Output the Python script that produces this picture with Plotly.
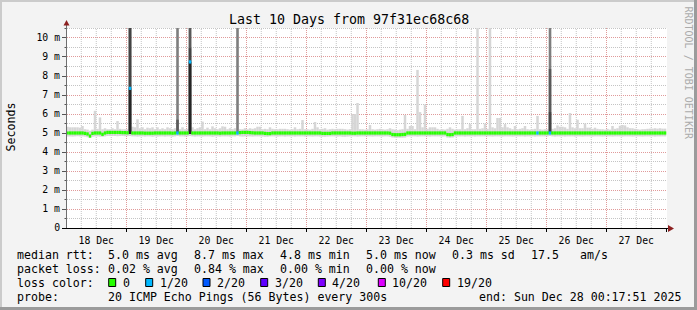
import plotly.graph_objects as go
import pandas as pd

# ---------------- data ----------------
TITLE = "Last 10 Days from 97f31ec68c68"
BIN_START = "2025-12-18 00:00:00"          # first hourly bin
RANGE_START = "2025-12-18 00:17:51"
RANGE_END = "2025-12-28 00:17:51"

# upper edge of the smoke (highest ping per hour, ms)
smoke_hi = [
    5.33, 5.30, 5.30, 5.30, 5.30, 5.28, 5.37, 5.20, 5.18, 5.12, 5.18, 6.17, 5.22, 5.82, 5.20, 5.25, 5.20, 5.20, 5.25, 5.20, 5.63, 5.22, 5.20, 5.20,
    5.20, 10.6, 5.33, 5.30, 5.72, 5.25, 5.30, 5.20, 5.28, 5.25, 5.30, 5.20, 5.30, 5.20, 5.25, 5.20, 5.30, 5.25, 5.20, 5.25, 10.6, 5.20, 5.30, 5.20,
    5.22, 10.6, 5.30, 5.20, 5.25, 5.30, 5.60, 5.20, 5.28, 5.20, 5.35, 5.25, 5.20, 5.25, 5.35, 5.33, 5.20, 5.25, 5.20, 5.25, 10.6, 5.20, 5.20, 5.25,
    5.20, 5.25, 5.22, 5.25, 5.33, 5.33, 5.20, 5.22, 5.20, 5.30, 5.22, 5.20, 5.20, 5.22, 5.22, 5.22, 5.20, 5.18, 5.20, 5.30, 5.20, 5.22, 5.68, 5.20,
    5.20, 5.18, 5.22, 5.58, 5.30, 5.20, 5.22, 5.25, 5.18, 5.20, 5.22, 5.20, 5.22, 5.22, 5.22, 5.20, 5.18, 5.20, 6.00, 6.00, 6.58, 5.20, 5.20, 5.18,
    5.20, 5.42, 5.20, 5.18, 5.20, 5.22, 5.20, 5.18, 5.20, 5.25, 5.20, 5.18, 5.15, 5.18, 5.20, 5.95, 5.22, 5.37, 5.37, 5.20, 8.32, 6.10, 5.30, 6.50,
    5.22, 5.30, 5.30, 5.30, 5.22, 5.18, 5.20, 5.18, 5.22, 5.30, 5.22, 5.18, 5.20, 5.20, 5.90, 5.20, 5.25, 5.47, 5.20, 5.20, 10.6, 5.22, 5.25, 5.50,
    5.22, 10.6, 5.30, 5.25, 5.79, 5.79, 5.30, 5.47, 5.30, 5.25, 5.20, 5.37, 5.20, 5.22, 5.25, 5.37, 5.20, 5.18, 5.20, 5.22, 5.90, 5.20, 5.18, 5.20,
    5.20, 10.6, 5.22, 5.25, 5.40, 5.33, 5.33, 5.30, 5.22, 6.05, 5.30, 5.25, 5.70, 5.25, 5.25, 5.50, 5.28, 5.28, 5.22, 5.28, 5.22, 5.20, 5.20, 5.18,
    5.22, 5.18, 5.37, 5.22, 5.25, 5.38, 5.42, 5.40, 5.30, 5.25, 5.25, 5.22, 5.20, 5.18, 5.20, 5.20, 5.22, 5.23, 5.23, 5.25, 5.23, 5.25, 5.23, 5.23,
]

# lower edge of the smoke (lowest ping per hour, ms)
smoke_lo = [
    4.82, 4.82, 4.81, 4.82, 4.83, 4.82, 4.82, 4.81, 4.78, 4.74, 4.80, 4.82, 4.82, 4.81, 4.80, 4.82, 4.84, 4.84, 4.84, 4.84, 4.83, 4.84, 4.84, 4.83,
    4.83, 4.84, 4.82, 4.82, 4.81, 4.82, 4.82, 4.81, 4.82, 4.82, 4.80, 4.82, 4.81, 4.82, 4.82, 4.81, 4.82, 4.82, 4.80, 4.82, 4.84, 4.82, 4.82, 4.81,
    4.82, 4.84, 4.82, 4.81, 4.82, 4.82, 4.81, 4.82, 4.82, 4.82, 4.80, 4.82, 4.82, 4.81, 4.82, 4.82, 4.82, 4.81, 4.82, 4.82, 4.84, 4.82, 4.81, 4.82,
    4.82, 4.82, 4.81, 4.82, 4.82, 4.82, 4.81, 4.80, 4.80, 4.82, 4.82, 4.82, 4.81, 4.82, 4.82, 4.81, 4.82, 4.82, 4.82, 4.81, 4.82, 4.82, 4.82, 4.81,
    4.82, 4.82, 4.81, 4.82, 4.82, 4.81, 4.80, 4.80, 4.81, 4.82, 4.82, 4.82, 4.81, 4.82, 4.80, 4.80, 4.81, 4.82, 4.82, 4.82, 4.81, 4.82, 4.82, 4.82,
    4.82, 4.82, 4.81, 4.82, 4.82, 4.82, 4.81, 4.82, 4.82, 4.80, 4.76, 4.75, 4.75, 4.75, 4.75, 4.76, 4.81, 4.82, 4.82, 4.82, 4.81, 4.82, 4.82, 4.82,
    4.82, 4.81, 4.82, 4.82, 4.82, 4.82, 4.81, 4.82, 4.76, 4.75, 4.76, 4.81, 4.82, 4.82, 4.82, 4.81, 4.82, 4.82, 4.82, 4.81, 4.82, 4.82, 4.82, 4.82,
    4.82, 4.82, 4.81, 4.82, 4.82, 4.82, 4.81, 4.82, 4.82, 4.82, 4.81, 4.82, 4.82, 4.82, 4.82, 4.81, 4.82, 4.82, 4.82, 4.81, 4.82, 4.82, 4.82, 4.82,
    4.82, 4.84, 4.82, 4.81, 4.82, 4.82, 4.82, 4.81, 4.82, 4.82, 4.82, 4.81, 4.82, 4.82, 4.81, 4.82, 4.82, 4.82, 4.81, 4.82, 4.82, 4.82, 4.81, 4.82,
    4.82, 4.82, 4.81, 4.82, 4.82, 4.82, 4.81, 4.82, 4.82, 4.82, 4.81, 4.82, 4.82, 4.82, 4.81, 4.82, 4.82, 4.82, 4.82, 4.81, 4.82, 4.82, 4.82, 4.82,
]

# median rtt per hour (ms)
median_ms = [
    5.00, 5.00, 5.00, 5.00, 5.00, 5.00, 5.00, 4.98, 4.95, 4.84, 4.98, 5.00, 5.00, 5.00, 4.93, 5.00, 5.03, 5.03, 5.03, 5.03, 5.03, 5.03, 5.02, 5.02,
    5.01, 7.35, 5.00, 5.00, 5.00, 5.00, 5.00, 4.99, 4.99, 4.99, 4.99, 5.00, 5.00, 5.00, 5.00, 5.00, 5.00, 5.00, 4.99, 5.00, 5.00, 5.00, 5.00, 5.00,
    5.00, 8.74, 5.00, 5.00, 5.00, 5.00, 5.00, 5.00, 5.00, 5.00, 5.00, 5.00, 5.00, 4.99, 5.00, 5.00, 5.00, 5.00, 5.00, 5.00, 5.00, 5.02, 5.03, 5.03,
    5.03, 5.02, 5.01, 5.00, 5.00, 5.00, 5.00, 4.98, 4.97, 4.97, 5.00, 5.00, 5.00, 5.00, 5.00, 5.00, 5.00, 5.00, 5.00, 5.00, 5.00, 5.00, 5.00, 5.00,
    5.00, 5.00, 5.00, 5.00, 5.00, 5.00, 4.98, 4.98, 4.98, 4.98, 5.00, 5.00, 5.00, 5.00, 5.00, 5.00, 5.00, 5.00, 4.99, 4.99, 5.00, 5.00, 5.00, 5.00,
    5.00, 5.00, 5.00, 5.00, 5.00, 5.00, 5.00, 5.00, 5.00, 4.99, 4.92, 4.91, 4.91, 4.91, 4.92, 4.93, 5.00, 5.00, 5.00, 5.00, 5.00, 5.00, 5.00, 5.00,
    5.00, 5.00, 5.00, 5.00, 5.00, 5.00, 5.00, 5.00, 4.92, 4.91, 4.92, 5.00, 5.00, 5.00, 5.00, 5.00, 5.00, 5.00, 5.00, 5.00, 5.00, 5.00, 5.00, 5.00,
    5.00, 5.00, 5.00, 5.00, 5.00, 5.00, 5.00, 5.00, 5.00, 5.00, 5.00, 5.00, 5.00, 5.00, 5.00, 5.00, 5.00, 5.00, 5.00, 5.00, 5.00, 5.00, 5.00, 5.00,
    5.00, 5.00, 5.00, 5.00, 5.00, 5.00, 5.00, 5.00, 5.00, 5.00, 5.00, 5.00, 5.00, 5.00, 5.00, 5.00, 5.00, 5.00, 5.00, 5.00, 5.00, 5.00, 5.00, 5.00,
    5.00, 5.00, 5.00, 5.00, 5.00, 5.00, 5.00, 5.00, 5.00, 5.00, 5.00, 5.00, 5.00, 5.00, 5.00, 5.00, 5.00, 5.00, 5.00, 5.00, 5.00, 5.00, 5.00, 5.00,
]

# lost pings (out of 20) per hour
loss_pings = [
    0, 0, 0, 0, 0, 0, 0, 0, 0, 0, 0, 0, 0, 0, 0, 0, 0, 0, 0, 0, 0, 0, 0, 0,
    0, 1, 0, 0, 0, 0, 0, 0, 0, 0, 0, 0, 0, 0, 0, 0, 0, 0, 0, 0, 1, 0, 0, 0,
    0, 1, 0, 0, 0, 0, 0, 0, 0, 0, 0, 0, 0, 0, 0, 0, 0, 0, 0, 0, 1, 0, 0, 0,
    0, 0, 0, 0, 0, 0, 0, 0, 0, 0, 0, 0, 0, 0, 0, 0, 0, 0, 0, 0, 0, 0, 0, 0,
    0, 0, 0, 0, 0, 0, 0, 0, 0, 0, 0, 0, 0, 0, 0, 0, 0, 0, 0, 0, 0, 0, 0, 0,
    0, 0, 0, 0, 0, 0, 0, 0, 0, 0, 0, 0, 0, 0, 0, 0, 0, 0, 0, 0, 0, 0, 0, 0,
    0, 0, 0, 0, 0, 0, 0, 0, 0, 0, 0, 0, 0, 0, 0, 0, 0, 0, 0, 0, 0, 0, 0, 0,
    0, 0, 0, 0, 0, 0, 0, 0, 0, 0, 0, 0, 0, 0, 0, 0, 0, 0, 0, 0, 1, 0, 0, 0,
    0, 1, 0, 0, 0, 0, 0, 0, 0, 0, 0, 0, 0, 0, 0, 0, 0, 0, 0, 0, 0, 0, 0, 0,
    0, 0, 0, 0, 0, 0, 0, 0, 0, 0, 0, 0, 0, 0, 0, 0, 0, 0, 0, 0, 0, 0, 0, 0,
]

# hours with heavy smoke (many slow pings): top of each inner smoke band (ms)
burst_hours = [25, 44, 49, 68, 193]
burst_base = [4.95, 4.98, 4.95, 4.98, 4.97]
burst_band2 = [10.6, 10.6, 10.6, 10.6, 10.6]
burst_band3 = [10.6, 5.70, 10.6, 4.98, 8.37]
burst_band4 = [10.6, 4.98, 9.46, 4.98, 6.10]
burst_band5 = [7.35, 4.98, 8.74, 4.98, 4.97]

y_tick_vals = [0, 1, 2, 3, 4, 5, 6, 7, 8, 9, 10]
y_tick_text = ["0", "1 m", "2 m", "3 m", "4 m", "5 m", "6 m", "7 m", "8 m", "9 m", "10 m"]
y_minor_vals = [0.5, 1.5, 2.5, 3.5, 4.5, 5.5, 6.5, 7.5, 8.5, 9.5, 10.5]
x_minor_hours = [6, 12, 18]          # minor grid within each day

loss_levels = [0, 1, 2, 3, 4, 10, 19]
loss_labels = ["0", "1/20", "2/20", "3/20", "4/20", "10/20", "19/20"]
loss_colors = ["#26ff00", "#00b8ff", "#0059ff", "#5e00ff", "#7e00ff", "#dd00ff", "#ff0000"]

rtt_values = ["5.0", "8.7", "4.8", "5.0", "0.3"]
rtt_kinds = ["avg", "max", "min", "now", "sd"]
rtt_am = "17.5"
loss_values = ["0.02", "0.84", "0.00", "0.00"]
loss_kinds = ["avg", "max", "min", "now"]
probe_text = "20 ICMP Echo Pings (56 Bytes) every 300s"
end_text = "end: Sun Dec 28 00:17:51 2025"

# ---------------- styling / geometry ----------------
W, H = 697, 310
L, R, T, B = 67, 667, 28, 228
FONT = "DejaVu Sans Mono"
HOUR_MS = 3600000
MAJOR_GRID = "#e09a9a"
MINOR_GRID = "#c4c4c4"
DASH = "1px,1px"
N_DAYS = 10


def px(x):
    return (x - L) / (R - L)


def py(y):
    return (B - y) / (B - T)


t0 = pd.Timestamp(BIN_START)
times = [t0 + pd.Timedelta(minutes=60 * h + 30) for h in range(len(median_ms))]
burst_times = [t0 + pd.Timedelta(minutes=60 * h + 30) for h in burst_hours]
x_minor_vals = [t0 + pd.Timedelta(days=d, hours=hh) for d in range(N_DAYS + 1) for hh in x_minor_hours]
x_lo, x_hi = pd.Timestamp(RANGE_START), pd.Timestamp(RANGE_END)
x_minor_vals = [v for v in x_minor_vals if x_lo < v < x_hi]


def loss_color(n):
    c = loss_colors[0]
    for lv, col in zip(loss_levels, loss_colors):
        if n >= lv:
            c = col
    return c


fig = go.Figure()

# light outer smoke
fig.add_trace(go.Bar(
    x=times, base=smoke_lo, y=[h - l for h, l in zip(smoke_hi, smoke_lo)],
    width=HOUR_MS, marker=dict(color="#d6d6d6", line=dict(width=0)),
    hoverinfo="skip", showlegend=False))

# heavy smoke bands
band_colors = ["#7e7e7e", "#5a5a5a", "#444444", "#262626"]
for tops, col in zip([burst_band2, burst_band3, burst_band4, burst_band5], band_colors):
    fig.add_trace(go.Bar(
        x=burst_times, base=burst_base, y=[t - b for t, b in zip(tops, burst_base)],
        width=HOUR_MS, marker=dict(color=col, line=dict(width=0)),
        hoverinfo="skip", showlegend=False))

# median line coloured by loss
HALF = 0.085
fig.add_trace(go.Bar(
    x=times, base=[m - HALF for m in median_ms], y=[2 * HALF] * len(median_ms),
    width=HOUR_MS, marker=dict(color=[loss_color(n) for n in loss_pings], line=dict(width=0)),
    hoverinfo="skip", showlegend=False))

shapes = []
# minor grid (drawn beneath the data)
for v in x_minor_vals:
    shapes.append(dict(type="line", xref="x", yref="paper", x0=v, x1=v, y0=0, y1=1,
                       line=dict(color=MINOR_GRID, width=1, dash=DASH), layer="below"))
for v in y_minor_vals:
    shapes.append(dict(type="line", xref="paper", yref="y", x0=0, x1=1, y0=v, y1=v,
                       line=dict(color=MINOR_GRID, width=1, dash=DASH), layer="below"))
    shapes.append(dict(type="line", xref="paper", yref="y", x0=px(64.5), x1=px(67), y0=v, y1=v,
                       line=dict(color="#555", width=1), layer="above"))
# frame
shapes += [
    dict(type="rect", xref="paper", yref="paper", x0=px(0), x1=px(W), y0=py(0), y1=py(2),
         fillcolor="#cbcbcb", line=dict(width=0), layer="above"),
    dict(type="rect", xref="paper", yref="paper", x0=px(0), x1=px(2), y0=py(0), y1=py(H),
         fillcolor="#cbcbcb", line=dict(width=0), layer="above"),
    dict(type="rect", xref="paper", yref="paper", x0=px(0), x1=px(W), y0=py(H - 3), y1=py(H),
         fillcolor="#9b9b9b", line=dict(width=0), layer="above"),
    dict(type="rect", xref="paper", yref="paper", x0=px(W - 3), x1=px(W), y0=py(0), y1=py(H),
         fillcolor="#9b9b9b", line=dict(width=0), layer="above"),
]
# axis lines and arrows
shapes += [
    dict(type="line", xref="paper", yref="paper", x0=px(66.5), x1=px(66.5), y0=py(B), y1=py(24),
         line=dict(color="#6e6e6e", width=1), layer="above"),
    dict(type="line", xref="paper", yref="paper", x0=px(62), x1=px(669), y0=py(B + 0.5), y1=py(B + 0.5),
         line=dict(color="#000000", width=1), layer="above"),
    dict(type="path", xref="paper", yref="paper",
         path=f"M {px(63.5)} {py(25.5)} L {px(69.5)} {py(25.5)} L {px(66.5)} {py(20)} Z",
         fillcolor="#8c2020", line=dict(width=0), layer="above"),
    dict(type="path", xref="paper", yref="paper",
         path=f"M {px(668)} {py(225)} L {px(668)} {py(232)} L {px(674)} {py(228.5)} Z",
         fillcolor="#8c2020", line=dict(width=0), layer="above"),
]

ann = []
ann.append(dict(text=TITLE, x=px(348.5), y=py(19), xanchor="center", yanchor="middle",
                font=dict(family=FONT, size=13.3, color="#000")))
ann.append(dict(text="Seconds", x=px(10.5), y=py(127), xanchor="center", yanchor="middle",
                textangle=-90, font=dict(family=FONT, size=11.6, color="#000")))
ann.append(dict(text="RRDTOOL / TOBI OETIKER", x=px(688.5), y=py(73), xanchor="center",
                yanchor="middle", textangle=90, font=dict(family=FONT, size=10, color="#ababab")))

LEG = dict(family=FONT, size=11.6, color="#000")
rows_y = [254.5, 268.5, 282.5, 296.5]
col_x = [107.3, 193.3, 279.3, 365.3, 451.3]


def text(s, x, y):
    ann.append(dict(text=s, x=px(x), y=py(y), xanchor="left", yanchor="middle",
                    borderpad=0, font=LEG))


text("median rtt:", 16, rows_y[0])
for v, k, x in zip(rtt_values, rtt_kinds, col_x):
    text(f"{v} ms {k}", x, rows_y[0])
text(rtt_am, 530.3, rows_y[0])
text("am/s", 579.3, rows_y[0])

text("packet loss:", 16, rows_y[1])
for v, k, x in zip(loss_values, loss_kinds, col_x):
    text(f"{v} % {k}", x, rows_y[1])

text("loss color:", 16, rows_y[2])
box_x = [108.7, 145.7, 203.0, 260.7, 318.3, 378.3, 442.7]
for lab, col, bx in zip(loss_labels, loss_colors, box_x):
    shapes.append(dict(type="rect", xref="paper", yref="paper",
                       x0=px(bx), x1=px(bx + 7), y0=py(rows_y[2] - 4), y1=py(rows_y[2] + 4),
                       fillcolor=col, line=dict(color="#000", width=1), layer="above"))
    text(lab, bx + 12.8, rows_y[2])

text("probe:", 16, rows_y[3])
text(probe_text, 107.3, rows_y[3])
text(end_text, 478.3, rows_y[3])

for a in ann:
    a.setdefault("xref", "paper")
    a.setdefault("yref", "paper")
    a["showarrow"] = False

fig.update_layout(
    width=W, height=H, autosize=False,
    margin=dict(l=L, r=W - R, t=T, b=H - B, pad=0),
    paper_bgcolor="#f3f3f3", plot_bgcolor="#ffffff",
    barmode="overlay", showlegend=False,
    shapes=shapes, annotations=ann,
    font=dict(family=FONT, size=9.8, color="#000"),
    xaxis=dict(
        type="date", range=[RANGE_START, RANGE_END],
        tickmode="linear", tick0="2025-12-18", dtick=86400000,
        ticklabelmode="period", tickformat="%d %b",
        showgrid=True, gridcolor=MAJOR_GRID, griddash=DASH, gridwidth=1,
        ticks="outside", ticklen=3, tickcolor="#000",
        tickfont=dict(family=FONT, size=9.8, color="#000"),
        showline=False, zeroline=False, fixedrange=True,
    ),
    yaxis=dict(
        range=[0, 10.526], tickmode="array", tickvals=y_tick_vals, ticktext=y_tick_text,
        showgrid=True, gridcolor=MAJOR_GRID, griddash=DASH, gridwidth=1,
        ticks="outside", ticklen=4, tickcolor="#555",
        tickfont=dict(family=FONT, size=9.8, color="#000"),
        showline=False, zeroline=False, fixedrange=True,
    ),
)

fig.write_html("out.html")
